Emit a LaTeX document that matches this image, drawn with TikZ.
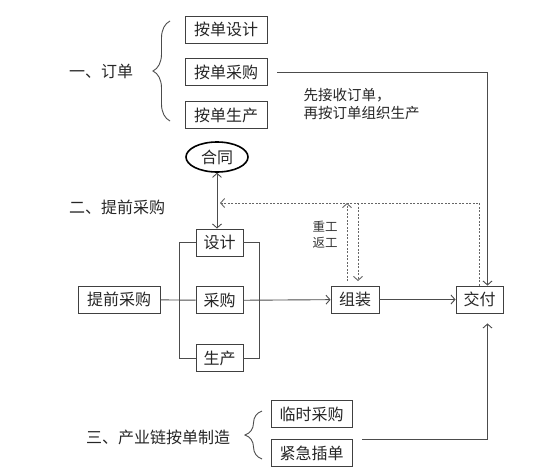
\documentclass[tikz,border=0pt]{standalone}
\usepackage{fontspec}
\setmainfont{Noto Sans CJK SC}
\usetikzlibrary{arrows.meta, positioning, shapes.geometric, decorations.pathreplacing}

\begin{document}
\begin{tikzpicture}[
        x=1pt, y=-1pt,
        node distance=15pt and 10pt,
        box/.style={rectangle, draw=black!75, line width=0.9pt, fill=white, minimum height=27pt, inner xsep=7.5pt, inner ysep=0pt, font=\fontsize{16}{18}\selectfont, text=black!85},
        label/.style={font=\fontsize{16}{18}\selectfont, text=black!85},
        oval/.style={ellipse, draw=black, line width=1.6pt, minimum width=62pt, minimum height=30pt, inner sep=0pt, font=\fontsize{16}{18}\selectfont, text=black!85},
        arrow/.style={-{Straight Barb[length=4pt, width=9pt]}, line width=0.9pt, draw=black!70},
        link/.style={line width=0.9pt, draw=black!70},
        rework/.style={-{Straight Barb[length=4pt, width=9pt]}, line width=0.9pt, draw=black!60, dash pattern=on 2pt off 1.5pt},
        curly/.style={decorate, decoration={brace, amplitude=17pt, aspect=0.5}, line width=0.9pt, draw=black!70}
    ]
    \useasboundingbox (0,0) rectangle (560,474);

    % Part one: orders
    \node[label] (order) at (101,71) {一、订单};
    \node[box, minimum width=82pt] (byDesign) at (226,29.5) {按单设计};
    \node[box, minimum width=82pt, below=of byDesign] (byPurchase) {按单采购};
    \node[box, minimum width=82pt, below=of byPurchase] (byProduce) {按单生产};
    \draw[curly] (170,121) -- (170,21);
    \node[anchor=west, align=left, font=\fontsize{14.5}{18}\selectfont, text=black!85] (note) at (300,104) {先接收订单，\\再按订单组织生产};

    % Part two: advance purchase
    \node[label] (advance) at (117,207) {二、提前采购};
    \node[oval] (contract) at (217,157) {合同};
    \node[box, minimum width=47pt] (design) at (219.5,242.5) {设计};
    \node[box, minimum width=47pt, below=30pt of design] (purchase) {采购};
    \node[box, minimum width=47pt, below=30pt of purchase] (produce) {生产};
    \node[box, minimum width=82pt] (advBuy) at (119,299.5) {提前采购};
    \node[box, minimum width=48pt] (assemble) at (355,299.5) {组装};
    \node[box, minimum width=47pt] (deliver) at (479.5,299.5) {交付};
    \node[align=center, font=\fontsize{12.5}{16}\selectfont, text=black!80] (redo) at (325,235) {重工\\返工};

    % Part three: supply chain
    \node[label] (chain) at (158,437) {三、产业链按单制造};
    \node[box, minimum width=81pt] (tmpBuy) at (311.5,414) {临时采购};
    \node[box, minimum width=81pt, below=11pt of tmpBuy] (urgent) {紧急插单};
    \draw[curly] (262,459) -- (262,411);

    % Helper points
    \coordinate (reworkEnd) at (220,203);
    \coordinate (reworkUp) at (347,281);
    \coordinate (reworkDown) at (358,281);

    % Parallel stages
    \draw[link] (design.west) -- ++(-16,0) |- (produce.west);
    \draw[link] (design.east) -- ++(16,0) |- (produce.east);
    \draw[link] (advBuy) -- (purchase);
    \draw[arrow] (purchase) -- (assemble);
    \draw[arrow] (assemble) -- (deliver);
    \draw[arrow, {Straight Barb[length=4pt, width=9pt]}-{Straight Barb[length=4pt, width=9pt]}] (contract.south) -- (contract.south |- design.north);

    % Rework loops
    \draw[rework] (deliver.north) |- (reworkEnd);
    \draw[rework] (reworkUp) -- (reworkUp |- reworkEnd);
    \draw[rework] (reworkDown |- reworkEnd) -- (reworkDown);

    % Order and supply chain to delivery
    \draw[arrow] ([xshift=10pt]byPurchase.east) -| ([xshift=8pt]deliver.north);
    \draw[arrow] ([xshift=10pt]urgent.north east) -| ([shift={(8pt,-10pt)}]deliver.south);

\end{tikzpicture}
\end{document}
